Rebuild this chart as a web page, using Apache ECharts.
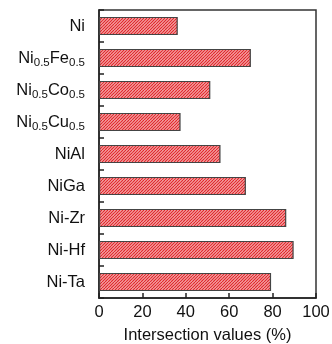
<!DOCTYPE html>
<html><head><meta charset="utf-8">
<script src="https://cdn.jsdelivr.net/npm/echarts@6/dist/echarts.min.js"></script>
<style>html,body{margin:0;padding:0;background:#fff}#c{width:332px;height:344px}</style>
</head><body><div id="c"></div>
<script>
var categories = ["Ni", "Ni0.5Fe0.5", "Ni0.5Co0.5", "Ni0.5Cu0.5", "NiAl", "NiGa", "Ni-Zr", "Ni-Hf", "Ni-Ta"];
var values = [36.3, 70, 51.3, 37.6, 56, 67.7, 86.3, 89.7, 79.3];
var xTicks = [0, 20, 40, 60, 80, 100];

var tile = document.createElement('canvas');
tile.width = 6; tile.height = 6;
var g = tile.getContext('2d');
g.fillStyle = '#f7b3b3'; g.fillRect(0, 0, 6, 6);
g.strokeStyle = '#e0262b'; g.lineWidth = 1.2;
for (var s = -6; s <= 12; s += 3) { g.beginPath(); g.moveTo(s, 6); g.lineTo(s + 6, 0); g.stroke(); }

var FF = 'Liberation Sans, Arial, sans-serif';
var chart = echarts.init(document.getElementById('c'));
chart.setOption({
  animation: false,
  grid: {left: 99, right: 16, top: 10, bottom: 46, outerBoundsMode: 'none', containLabel: false, show: true, borderColor: '#333', borderWidth: 1.5, backgroundColor: 'transparent'},
  xAxis: {
    type: 'value', min: xTicks[0], max: xTicks[xTicks.length - 1], interval: 20,
    axisLine: {show: true, lineStyle: {color: '#222', width: 1.5}},
    axisTick: {show: true, inside: true, length: 5, lineStyle: {color: '#222', width: 1.5}},
    splitLine: {show: false},
    axisLabel: {color: '#111', fontSize: 16.5, fontFamily: FF, margin: 6},
    name: 'Intersection values (%)', nameLocation: 'middle', nameGap: 29,
    nameTextStyle: {color: '#111', fontSize: 16.5, fontFamily: FF}
  },
  yAxis: {
    type: 'category', data: categories, inverse: true,
    axisLine: {show: true, lineStyle: {color: '#222', width: 1.5}},
    axisTick: {show: true, inside: true, length: 5, lineStyle: {color: '#222', width: 1.5}},
    axisLabel: {
      color: '#111', fontSize: 16.5, fontFamily: FF, margin: 14,
      formatter: function (v) { return v.replace(/0\.5/g, '{sub|0.5}'); },
      rich: {sub: {fontSize: 11.5, fontFamily: FF, color: '#111', verticalAlign: 'bottom', padding: [9, 0, 0, 0]}}
    }
  },
  series: [{
    type: 'bar', data: values, barWidth: '57%',
    itemStyle: {color: {image: tile, repeat: 'repeat'}, borderColor: '#444', borderWidth: 1.2}
  }]
});
</script></body></html>
